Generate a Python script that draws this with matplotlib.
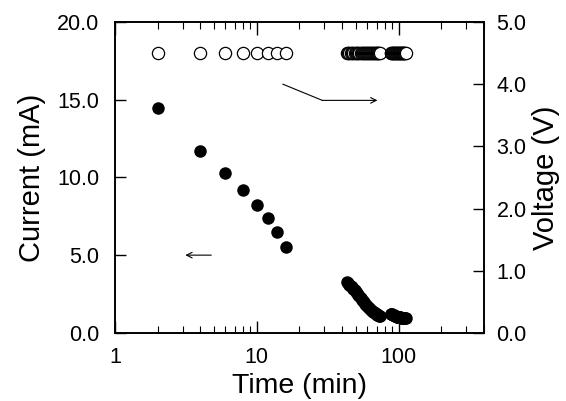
import matplotlib
matplotlib.use("Agg")
import matplotlib.pyplot as plt
from matplotlib.ticker import LogLocator, FixedLocator, FormatStrFormatter, NullFormatter

# -----------------------------------------
# Data
# -----------------------------------------

time_early = [2, 4, 6, 8, 10, 12, 14, 16]
current_early = [14.5, 11.7, 10.3, 9.2, 8.2, 7.4, 6.5, 5.5]

time_mid = [43, 44, 45, 46, 47, 48, 49, 50, 51, 52, 53, 54, 55, 56, 57, 58,
            59, 60, 61, 62, 63, 64, 65, 66, 67, 68, 69, 70, 71, 72, 73, 74]
current_mid = [3.30, 3.20, 3.10, 3.00, 2.92, 2.83, 2.74, 2.64, 2.54, 2.44,
               2.34, 2.24, 2.14, 2.04, 1.96, 1.88, 1.80, 1.72, 1.65, 1.58,
               1.52, 1.46, 1.41, 1.36, 1.32, 1.28, 1.24, 1.20, 1.16, 1.13,
               1.10, 1.07]

time_late = [88, 89, 90, 91, 92, 93, 94, 95, 96, 97, 98, 99, 100, 101, 102,
             103, 104, 105, 106, 107, 108, 109, 110, 111, 112]
current_late = [1.22, 1.20, 1.18, 1.16, 1.14, 1.12, 1.10, 1.08, 1.06, 1.05,
                1.04, 1.03, 1.02, 1.01, 1.00, 0.99, 0.98, 0.97, 0.96, 0.96,
                0.95, 0.95, 0.94, 0.94, 0.93]

voltage_level = 4.5

plt.rcParams["font.family"] = ["Liberation Sans", "DejaVu Sans"]

# -----------------------------------------
# Plot
# -----------------------------------------

fig = plt.figure(figsize=(5.66, 4.01), dpi=100)
ax = fig.add_axes([0.203, 0.170, 0.652, 0.775])
ax2 = ax.twinx()

all_time = time_early + time_mid + time_late
all_current = current_early + current_mid + current_late
all_voltage = [voltage_level] * len(all_time)

ax.plot(all_time, all_current, "o", color="black", markersize=9,
        markeredgewidth=0)
ax2.plot(all_time, all_voltage, "o", markerfacecolor="white",
         markeredgecolor="black", markersize=8.8, markeredgewidth=0.9)

ax.set_xscale("log")
ax.set_xlim(1, 400)
ax.set_ylim(0, 20)
ax2.set_ylim(0, 5)

ax.xaxis.set_major_locator(FixedLocator([1, 10, 100]))
ax.xaxis.set_major_formatter(FormatStrFormatter("%d"))
ax.xaxis.set_minor_locator(LogLocator(base=10, subs=range(2, 10)))
ax.xaxis.set_minor_formatter(NullFormatter())

ax.yaxis.set_major_locator(FixedLocator([0, 5, 10, 15, 20]))
ax.yaxis.set_major_formatter(FormatStrFormatter("%.1f"))
ax2.yaxis.set_major_locator(FixedLocator([0, 1, 2, 3, 4, 5]))
ax2.yaxis.set_major_formatter(FormatStrFormatter("%.1f"))

ax.tick_params(axis="x", which="both", direction="in", top=True,
               labelsize=15.5, pad=10)
ax.tick_params(axis="x", which="major", length=9, width=1)
ax.tick_params(axis="x", which="minor", length=5, width=0.8)
ax.tick_params(axis="y", which="major", direction="in", length=8, width=1,
               labelsize=15.5, pad=11)
ax2.tick_params(axis="y", which="major", direction="in", length=8, width=1,
                labelsize=15.5, pad=9)

for a in (ax, ax2):
    for s in a.spines.values():
        s.set_linewidth(1.2)

ax.set_xlabel("Time (min)", fontsize=20.5, labelpad=4)
ax.set_ylabel("Current (mA)", fontsize=21, labelpad=8)
ax2.set_ylabel("Voltage (V)", fontsize=21, labelpad=4)

# arrows pointing to the matching axis
ax.annotate("", xy=(3.0, 5.0), xytext=(5.0, 5.0),
            arrowprops=dict(arrowstyle="->", lw=0.8, color="black"))
ax2.plot([15.3, 29.0], [4.0, 3.74], color="black", lw=0.8)
ax2.annotate("", xy=(71.0, 3.74), xytext=(29.0, 3.74),
             arrowprops=dict(arrowstyle="->", lw=0.8, color="black",
                             shrinkA=0, shrinkB=0))

plt.savefig("out.png", dpi=100)
